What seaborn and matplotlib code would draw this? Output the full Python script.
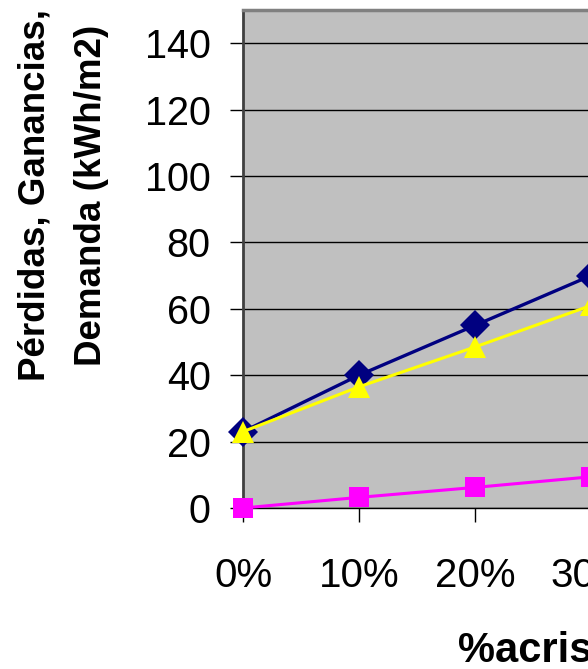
import matplotlib
matplotlib.use("Agg")
import matplotlib.pyplot as plt
import seaborn as sns
import pandas as pd

# Data
glazing_pct = [0, 10, 20, 30]
x_tick_labels = ["0%", "10%", "20%", "30%", "40%", "50%", "60%", "70%", "80%", "90%", "100%"]
x_tick_pos = [0, 10, 20, 30, 40, 50, 60, 70, 80, 90, 100]
serie_azul = [23, 40, 55, 70]
serie_amarilla = [23, 36.5, 48.5, 61]
serie_rosa = [0, 3.2, 6.2, 9.4]
y_ticks = [0, 20, 40, 60, 80, 100, 120, 140]

sns.set_style("white")
plt.rcParams['font.family'] = ['Liberation Sans', 'DejaVu Sans']
plt.rcParams['text.color'] = 'black'
plt.rcParams['xtick.color'] = 'black'
plt.rcParams['ytick.color'] = 'black'
plt.rcParams['xtick.labelcolor'] = 'black'
plt.rcParams['ytick.labelcolor'] = 'black'

fig = plt.figure(figsize=(5.88, 6.69), dpi=100)
ax = fig.add_axes([243/588, 1 - 508/669, 1160/588, 498/669])
ax.set_facecolor("#C0C0C0")

df = pd.DataFrame({"x": glazing_pct, "azul": serie_azul,
                   "amarilla": serie_amarilla, "rosa": serie_rosa})

styles = [
    ("azul", "#000080", "D", 15, 2.4),
    ("amarilla", "#FFFF00", "^", 15.5, 2.2),
    ("rosa", "#FF00FF", "s", 14, 2.2),
]
for col, color, mk, ms, lw in styles:
    sns.lineplot(data=df, x="x", y=col, ax=ax, color=color, marker=mk,
                 markersize=ms, linewidth=lw, markeredgecolor=color,
                 markeredgewidth=0, clip_on=False, zorder=5)

ax.set_xlim(0, 100)
ax.set_ylim(0, 150)
ax.set_yticks(y_ticks)
ax.set_xticks(x_tick_pos)
ax.set_xticklabels(x_tick_labels)
ax.yaxis.grid(True, color="black", linewidth=1.0)
ax.set_axisbelow(True)
ax.set_xlabel("")
ax.set_ylabel("")

ax.tick_params(axis="y", direction="out", length=9.4, width=1.0, color="black",
               labelcolor="black", pad=14, labelsize=28.5, left=True)
ax.tick_params(axis="x", direction="out", length=10, width=1.0, color="black",
               labelcolor="black", pad=25, labelsize=29, bottom=True)

for side in ["left", "top", "bottom", "right"]:
    ax.spines[side].set_visible(True)
ax.spines["left"].set_color("#404040")
ax.spines["left"].set_linewidth(2)
ax.spines["top"].set_color("#808080")
ax.spines["top"].set_linewidth(2.5)
ax.spines["bottom"].set_color("black")
ax.spines["bottom"].set_linewidth(1)
ax.spines["right"].set_color("#808080")

fig.text(63/588, 1 - 195/669, "Pérdidas, Ganancias,\nDemanda (kWh/m2)",
         rotation=90, ha="center", va="center", multialignment="center",
         fontsize=26.5, fontweight="bold", linespacing=1.8, color="black")
fig.text(458/588, 1 - 662/669, "%acristalamiento", ha="left", va="baseline",
         fontsize=30, fontweight="bold", color="black")

fig.savefig("out.png", dpi=100)
